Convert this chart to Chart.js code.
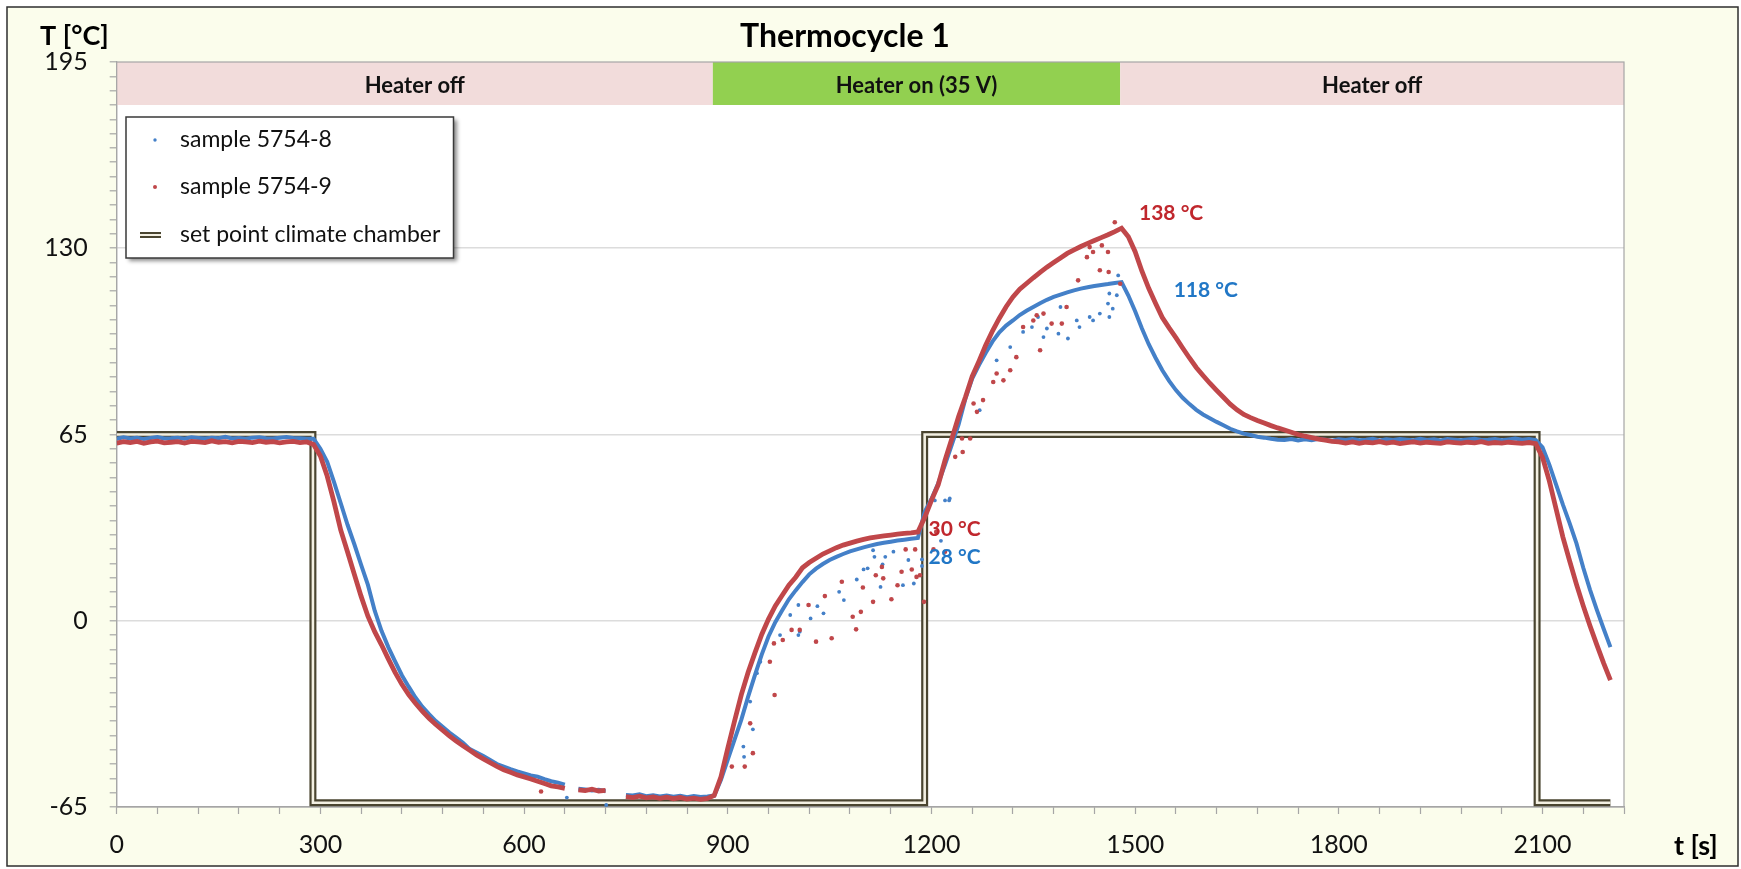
<!DOCTYPE html>
<html>
<head>
<meta charset="utf-8">
<script src="https://cdn.jsdelivr.net/npm/chart.js@4.4.1/dist/chart.umd.min.js"></script>
<style>
html,body{margin:0;padding:0;background:#fff;}
#wrap{position:relative;width:1741px;height:869px;}
</style>
</head>
<body>
<div id="wrap"><canvas id="c" width="1741" height="869"></canvas></div>
<script>
// ---------------- data ----------------
const chartTitle = 'Thermocycle 1';
const yAxisTitle = 'T [°C]';
const xAxisTitle = 't [s]';
const seriesNames = ['sample 5754-8', 'sample 5754-9', 'set point climate chamber'];

const xTickLabels = [0, 300, 600, 900, 1200, 1500, 1800, 2100];
const yTickLabels = [-65, 0, 65, 130, 195];

const timeS = [
0,10,20,30,40,50,60,70,80,90,100,110,120,130,140,150,160,170,180,190,
200,210,220,230,240,250,260,270,280,290,300,310,320,330,340,350,360,370,380,390,
400,410,420,430,440,450,460,470,480,490,500,510,520,530,540,550,560,570,580,590,
600,610,620,630,640,650,660,670,680,690,700,710,720,730,740,750,760,770,780,790,
800,810,820,830,840,850,860,870,880,890,900,910,920,930,940,950,960,970,980,990,
1000,1010,1020,1030,1040,1050,1060,1070,1080,1090,1100,1110,1120,1130,1140,1150,1160,1170,1180,1190,
1200,1210,1220,1230,1240,1250,1260,1270,1280,1290,1300,1310,1320,1330,1340,1350,1360,1370,1380,1390,
1400,1410,1420,1430,1440,1450,1460,1470,1480,1490,1500,1510,1520,1530,1540,1550,1560,1570,1580,1590,
1600,1610,1620,1630,1640,1650,1660,1670,1680,1690,1700,1710,1720,1730,1740,1750,1760,1770,1780,1790,
1800,1810,1820,1830,1840,1850,1860,1870,1880,1890,1900,1910,1920,1930,1940,1950,1960,1970,1980,1990,
2000,2010,2020,2030,2040,2050,2060,2070,2080,2090,2100,2110,2120,2130,2140,2150,2160,2170,2180,2190,
2200];

// sample 5754-8 (blue)
const sample8 = [
63.5,64.0,63.6,63.9,63.4,63.8,64.1,63.6,63.7,63.9,63.5,64.0,63.8,63.6,63.9,63.7,64.2,63.6,63.8,63.5,
63.9,64.0,63.7,63.6,63.9,64.1,63.8,63.7,63.5,
63.5,60,55.5,48.5,41,33.5,26.7,19.5,12.5,3.5,-3.5,-9.2,-14.2,-19,-23,-26.8,-30,-32.6,-35,-37,
-39,-40.8,-42.6,-44.8,-46,-47.2,-48.6,-50,-50.9,-51.8,-52.6,-53.3,-54,-54.4,-55.3,-56,-56.5,-57.2,
null,-58.6,-58.9,-59.2,-59,-59.5,null,null,-60.8,-61,-60.6,-61.2,-60.9,-61.3,-61,-61.4,-61.1,-61.6,-61.2,-61.5,-61.3,
-61,-55.5,-48.5,-41.5,-34.5,-26.5,-19,-11.8,-5.5,-0.5,3.6,7.5,10.6,13.5,16.2,18.2,19.8,21.2,22.3,23.3,
24.2,24.9,25.6,26.2,26.8,27.2,27.6,28,28.3,28.6,28.9,
38,42.5,48,54.5,61.5,68.5,77.5,84.5,89.2,93.5,97.5,100.7,103,104.8,106.7,108.2,109.5,110.8,112,113,
113.8,114.6,115.3,115.9,116.4,116.8,117.2,117.5,117.9,118.2,
113.5,108,102,96.5,91.8,87.4,83.7,80.5,77.8,75.6,73.6,72,70.7,69.4,68.2,67,66.1,65.3,64.8,64.2,63.9,63.5,63.2,
63.1,63.4,62.9,63.3,63.0,63.5,63.2,62.8,63.3,63.1,63.4,63.0,63.2,63.5,62.9,63.3,63.1,63.4,63.2,63.0,
63.5,63.1,63.3,62.9,63.4,63.2,63.0,63.3,63.5,63.1,63.2,63.4,63.0,63.3,63.6,63.2,63.4,63.0,
60.5,54.5,47.5,40.5,34,27,18.5,10.8,3.8,-2.8,-9.2];

// sample 5754-9 (red)
const sample9 = [
62.0,62.5,62.2,62.6,61.9,62.4,62.7,62.1,62.3,62.5,62.0,62.6,62.4,62.2,62.8,62.3,62.5,62.1,62.6,62.4,
62.2,62.7,62.3,62.5,62.1,62.4,62.6,62.2,62.4,
61.5,57.5,50.5,41.5,31.6,24,16.2,8.5,1.6,-3.8,-8.4,-13.3,-18,-22.2,-25.8,-28.8,-31.5,-34,-36.2,-38.2,
-40.2,-42,-43.6,-45.2,-46.8,-48.2,-49.5,-50.8,-52,-52.9,-53.8,-54.5,-55.2,-56,-56.8,-57.6,-58,-58.5,
null,-59,-59.3,-58.8,-59.4,-59.2,null,null,-61.4,-61.7,-61.2,-61.8,-61.5,-62,-61.6,-62.1,-61.7,-62.2,-61.9,-62.3,-62,
-61,-54.5,-44.5,-35,-25.8,-18,-11.2,-4.8,0.6,5.2,8.8,12.4,15.2,18.5,20.3,21.8,23.3,24.4,25.5,26.4,
27.1,27.8,28.4,28.9,29.3,29.6,29.9,30.2,30.5,30.7,31,
36,42,47.5,56,63.5,71.3,78,85.3,90.6,96.2,101.2,105.6,109.6,113,115.7,117.7,119.7,121.6,123.4,125,
126.6,128.2,129.4,130.6,131.7,132.7,133.7,134.7,135.8,137,
134,128.8,122,116,110.8,105.8,102.2,98.8,95.2,91.7,88.4,85.6,82.9,80.4,78,75.6,73.6,72,70.9,69.9,69,68.1,67.3,
66.6,65.8,65,64.4,63.9,63.4,63,62.6,62.4,
62.0,62.4,61.9,62.3,62.1,62.5,62.0,62.3,61.8,62.2,62.4,62.0,62.3,62.1,61.9,62.4,62.2,62.0,62.3,62.1,
62.5,61.9,62.2,62.0,62.3,62.1,61.9,62.2,61.8,
57,48.8,39,29.2,20.8,12.7,5.2,-1.8,-8.4,-14.8,-20.7];

// scattered readings away from the main trace
const stray8T = [663,721,923,924,937,933,943,948,977,1004,1006,992,1004,1032,1041,1022,1064,1071,1090,1100,
1106,1114,1116,1125,1128,1132,1144,1158,1166,1174,1186,1186,1214,1226,1220,1205,1227,1271,1296,1316,
1335,1348,1357,1365,1370,1387,1390,1401,1414,1418,1433,1438,1448,1462,1467,1462,1475,1473,1460];
const stray8V = [-61.7,-64.3,-43.9,-47.5,-37.9,-28.2,-18.3,-14.3,-5,-5,-3.8,2,5.5,5.1,2.6,0.8,10.1,7.2,14.4,17.9,
18.3,24.6,22.3,11.8,19.7,22.3,24.1,12.4,21.2,13,19.1,21.4,27.9,42,42,42,42.7,73.5,90.9,95.5,
100.8,102.5,106,99,102,100.2,109.5,98.5,104.8,102.5,106,104.8,107.2,106,108.9,114.2,120.5,113.6,110.7];
const stray9T = [625,906,925,937,933,969,962,968,981,994,1006,1030,1053,1019,1043,1068,1084,1089,1099,1096,
1114,1118,1129,1127,1141,1150,1156,1162,1171,1176,1178,1183,1189,1207,1220,1203,
1245,1257,1235,1246,1267,1262,1276,1291,1296,1306,1316,1325,1360,1335,1350,1355,1365,1377,1392,1399,
1416,1429,1438,1448,1451,1460,1461,1470,1433,1478];
const stray9V = [-59.6,-50.9,-50.9,-46.2,-35.8,-25.9,-14.3,-7.9,-6.7,-3.2,-3.2,-7.3,-6.1,5.5,8.6,13.6,1.4,-3,11.6,3.1,
6.6,15.9,14.8,18.8,7.5,12.4,17.1,24.9,17.9,24.9,15.3,15.9,6.6,31,24.1,24.9,
63.6,63.6,57.2,58.9,72.9,75.8,77,83.3,86.3,83.9,87.4,92,94.4,102.5,104.8,106.6,107.2,103.7,103.7,109.5,
118.8,126.9,128.7,122.3,131,128.7,121.7,139.1,130.4,117.6];

// set point of the climate chamber (step profile)
const setpointT = [0, 289, 289, 1190, 1190, 2092, 2092, 2200];
const setpointV = [65, 65, -63.5, -63.5, 65, 65, -63.5, -63.5];

// heater phases shown in the strip at the top
const phaseLabels = ['Heater off', 'Heater on (35 V)', 'Heater off'];
const phaseFrom = [0, 878, 1478];
const phaseTo = [878, 1478, 2220];
const phaseOn = [false, true, false];
const phaseLow = 180, phaseHigh = 195;

// value labels
const noteText = ['138 °C', '118 °C', '30 °C', '28 °C'];
const noteT = [1553, 1604, 1234, 1234];
const noteV = [142.2, 115.5, 31.8, 22.1];
const noteSeries = [1, 0, 1, 0];

const xMin = 0, xMax = 2220, yMin = -65, yMax = 195;

// ---------------- styling ----------------
const BLUE = '#4480C8', RED = '#C0474A';
const NOTE_COL = ['#2177C6', '#C0272D'];
const FONT = 'Lato, "Open Sans", sans-serif';
const AXIS_COL = '#A6A6A6';

function pts(ts, vs) { return ts.map((t, i) => ({x: t, y: vs[i]})); }

const decor = {
  id: 'decor',
  beforeDraw(chart) {
    const {ctx, chartArea: a} = chart;
    ctx.save();
    ctx.fillStyle = '#ffffff';
    ctx.fillRect(0, 0, chart.width, chart.height);
    ctx.fillStyle = '#FBFDEC';
    ctx.fillRect(7, 7, 1731, 859);
    ctx.strokeStyle = '#2e2e2e';
    ctx.lineWidth = 1.5;
    ctx.strokeRect(7, 7, 1731, 859);
    ctx.fillStyle = '#ffffff';
    ctx.fillRect(a.left, a.top, a.right - a.left, a.bottom - a.top);
    ctx.restore();
  },
  beforeDatasetsDraw(chart) {
    const {ctx, chartArea: a, scales: {x, y}} = chart;
    ctx.save();
    const yTop = y.getPixelForValue(phaseHigh), yBot = y.getPixelForValue(phaseLow);
    phaseLabels.forEach((lab, i) => {
      const x0 = x.getPixelForValue(phaseFrom[i]), x1 = x.getPixelForValue(phaseTo[i]);
      ctx.fillStyle = phaseOn[i] ? '#92D050' : '#F2DCDB';
      ctx.fillRect(x0, yTop, x1 - x0, yBot - yTop);
      ctx.fillStyle = '#111';
      ctx.font = 'bold 22px ' + FONT;
      ctx.textAlign = 'center';
      ctx.textBaseline = 'middle';
      ctx.fillText(lab, (x0 + x1) / 2, (yTop + yBot) / 2 + 2);
    });
    ctx.strokeStyle = AXIS_COL;
    ctx.lineWidth = 1.2;
    ctx.strokeRect(a.left, a.top, a.right - a.left, a.bottom - a.top);
    ctx.restore();
  },
  afterDraw(chart) {
    const {ctx, scales: {x, y}} = chart;
    ctx.save();
    ctx.fillStyle = '#000';
    ctx.font = 'bold 32px ' + FONT;
    ctx.textAlign = 'center';
    ctx.textBaseline = 'middle';
    ctx.fillText(chartTitle, 845, 37);
    ctx.font = 'bold 27px ' + FONT;
    ctx.textAlign = 'left';
    ctx.fillText(yAxisTitle, 40, 36);
    ctx.fillText(xAxisTitle, 1674, 846);
    ctx.font = 'bold 21px ' + FONT;
    ctx.textAlign = 'center';
    noteText.forEach((t, i) => {
      ctx.fillStyle = NOTE_COL[noteSeries[i]];
      ctx.fillText(t, x.getPixelForValue(noteT[i]), y.getPixelForValue(noteV[i]));
    });
    // legend
    const L = 126, T = 117, R = 453.5, B = 258;
    ctx.save();
    ctx.shadowColor = 'rgba(0,0,0,0.45)';
    ctx.shadowBlur = 4;
    ctx.shadowOffsetX = 3;
    ctx.shadowOffsetY = 3;
    ctx.fillStyle = '#fff';
    ctx.fillRect(L, T, R - L, B - T);
    ctx.restore();
    ctx.strokeStyle = '#3a3a3a';
    ctx.lineWidth = 1.5;
    ctx.strokeRect(L, T, R - L, B - T);
    const rows = [140, 187, 235];
    ctx.fillStyle = BLUE;
    ctx.beginPath(); ctx.arc(155, rows[0], 1.7, 0, Math.PI * 2); ctx.fill();
    ctx.fillStyle = RED;
    ctx.beginPath(); ctx.arc(155, rows[1], 2.0, 0, Math.PI * 2); ctx.fill();
    ctx.strokeStyle = '#4A4530'; ctx.lineWidth = 6;
    ctx.beginPath(); ctx.moveTo(140, rows[2]); ctx.lineTo(161, rows[2]); ctx.stroke();
    ctx.strokeStyle = '#F3F0E2'; ctx.lineWidth = 2;
    ctx.beginPath(); ctx.moveTo(140, rows[2]); ctx.lineTo(161, rows[2]); ctx.stroke();
    ctx.fillStyle = '#111';
    ctx.font = '23px ' + FONT;
    ctx.textAlign = 'left';
    ctx.textBaseline = 'middle';
    seriesNames.forEach((n, i) => ctx.fillText(n, 180, rows[i]));
    ctx.restore();
  }
};

function build() {
  new Chart(document.getElementById('c'), {
    type: 'scatter',
    data: {
      datasets: [
        {label: seriesNames[1] + ' stray', data: pts(stray9T, stray9V), showLine: false,
         pointRadius: 2.3, pointBackgroundColor: RED, pointBorderWidth: 0},
        {label: seriesNames[1], data: pts(timeS, sample9), showLine: true, borderColor: RED,
         borderWidth: 4.8, pointRadius: 0, spanGaps: false},
        {label: seriesNames[0] + ' stray', data: pts(stray8T, stray8V), showLine: false,
         pointRadius: 1.9, pointBackgroundColor: BLUE, pointBorderWidth: 0},
        {label: seriesNames[0], data: pts(timeS, sample8), showLine: true, borderColor: BLUE,
         borderWidth: 4, pointRadius: 0, spanGaps: false},
        {label: seriesNames[2], data: pts(setpointT, setpointV), showLine: true, borderColor: '#F3F0E2',
         borderWidth: 2.6, pointRadius: 0},
        {label: seriesNames[2] + ' outline', data: pts(setpointT, setpointV), showLine: true, borderColor: '#4A4530',
         borderWidth: 7, pointRadius: 0}
      ]
    },
    options: {
      responsive: false,
      animation: false,
      devicePixelRatio: 1,
      layout: {padding: {left: 0, right: 117, top: 62, bottom: 0}},
      plugins: {legend: {display: false}, tooltip: {enabled: false}, title: {display: false}},
      scales: {
        x: {
          type: 'linear', min: xMin, max: xMax,
          afterFit: s => { s.height = 62; },
          afterBuildTicks: s => { const t = []; for (let v = xMin; v <= xMax; v += 60) t.push({value: v}); s.ticks = t; },
          ticks: {autoSkip: false, maxRotation: 0, minRotation: 0, padding: 16, color: '#111',
                  font: {family: FONT, size: 25},
                  callback: v => xTickLabels.includes(v) ? String(v) : ''},
          grid: {drawOnChartArea: false, drawTicks: true, tickLength: 7, tickColor: AXIS_COL, tickWidth: 1.2},
          border: {display: true, color: AXIS_COL, width: 1.2}
        },
        y: {
          type: 'linear', min: yMin, max: yMax,
          afterFit: s => { s.width = 116.7; },
          afterBuildTicks: s => { const t = []; for (let v = yMin; v <= yMax; v += 5) t.push({value: v}); s.ticks = t; },
          ticks: {autoSkip: false, padding: 22, color: '#111', font: {family: FONT, size: 25},
                  callback: v => yTickLabels.includes(v) ? String(v) : ''},
          grid: {
            drawTicks: true, tickLength: 7, tickWidth: 1.2, tickColor: AXIS_COL, lineWidth: 1.6,
            color: c => (c.tick && [0, 65, 130].includes(c.tick.value)) ? '#DCDCDC' : 'rgba(0,0,0,0)'
          },
          border: {display: true, color: AXIS_COL, width: 1.2}
        }
      }
    },
    plugins: [decor]
  });
}

const fontsReady = (document.fonts && document.fonts.load)
  ? Promise.all(['22px Lato', 'bold 22px Lato'].map(f => document.fonts.load(f))).catch(() => null)
  : Promise.resolve();
fontsReady.then(build, build);
</script>
</body>
</html>
